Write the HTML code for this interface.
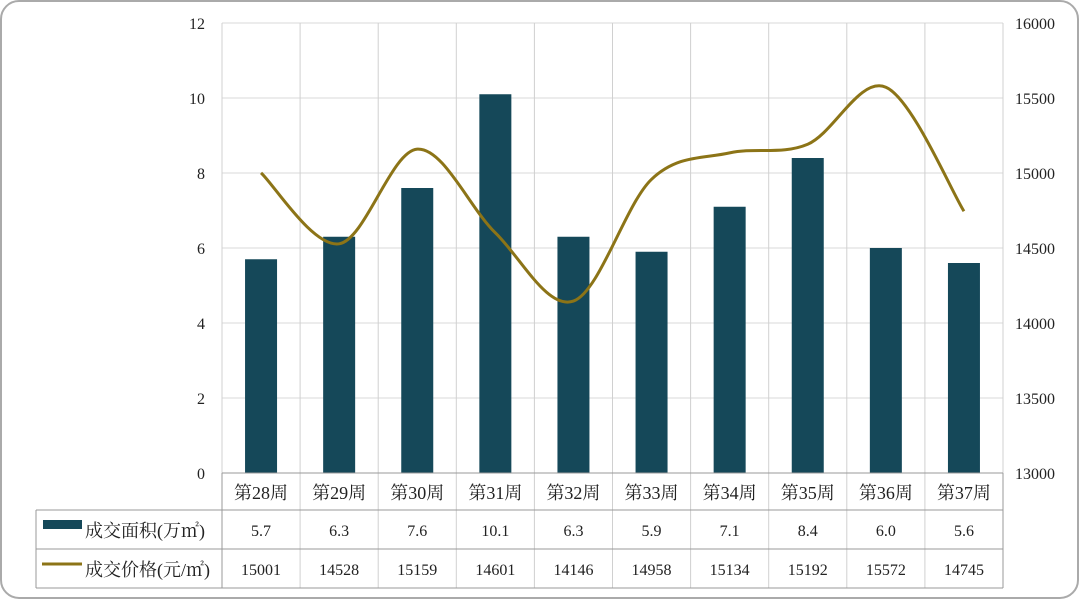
<!DOCTYPE html>
<html><head><meta charset="utf-8"><style>
body{margin:0;background:#fff;width:1080px;height:600px;overflow:hidden;}
svg text{font-family:"Liberation Serif","Noto Serif CJK SC","Noto Sans CJK SC",serif;fill:#222;}
</style></head><body>
<svg id="c" width="1080" height="600">
<rect x="1" y="1" width="1077" height="597" rx="18" fill="#fff" stroke="#aaa" stroke-width="2"/>
<g id="g"></g>
</svg>
<script>
const categories=["第28周","第29周","第30周","第31周","第32周","第33周","第34周","第35周","第36周","第37周"];
const areaValues=[5.7,6.3,7.6,10.1,6.3,5.9,7.1,8.4,6.0,5.6];
const areaLabels=["5.7","6.3","7.6","10.1","6.3","5.9","7.1","8.4","6.0","5.6"];
const priceValues=[15001,14528,15159,14601,14146,14958,15134,15192,15572,14745];
const leftTicks=[0,2,4,6,8,10,12];
const rightTicks=[13000,13500,14000,14500,15000,15500,16000];
const L=222,R=1003,T=23,B=473,n=categories.length,cw=(R-L)/n;
const yL=v=>B-(v-0)/(12-0)*(B-T);
const yR=v=>B-(v-13000)/(16000-13000)*(B-T);
const xC=i=>L+cw*(i+0.5);
const g=document.getElementById('g');const NS="http://www.w3.org/2000/svg";
function el(t,a,txt){const e=document.createElementNS(NS,t);for(const k in a)e.setAttribute(k,a[k]);if(txt!=null)e.textContent=txt;g.appendChild(e);return e;}
// gridlines
leftTicks.forEach(v=>{const e=el('line',{x1:L,x2:R,y1:yL(v),y2:yL(v),stroke:'#d9d9d9','stroke-width':1});


const t=el('text',{x:205,y:yL(v)+6,'text-anchor':'end','font-size':16},v);

});
rightTicks.forEach(v=>{const t=el('text',{x:1015,y:yR(v)+6,'font-size':16},v);

});
for(let i=0;i<=n;i++){const x=L+cw*i;const e=el('line',{x1:x,x2:x,y1:T,y2:588,stroke:'#d0d0d0','stroke-width':1});

}
// bars
areaValues.forEach((v,i)=>{const b=el('rect',{x:xC(i)-16,y:yL(v),width:32,height:B-yL(v),fill:'#154859'});

});
// line (catmull-rom)
const pts=priceValues.map((v,i)=>[xC(i),yR(v)]);
let d='M'+pts[0][0]+','+pts[0][1];
for(let i=0;i<pts.length-1;i++){const p0=pts[i-1]||pts[i],p1=pts[i],p2=pts[i+1],p3=pts[i+2]||p2;
d+=' C'+(p1[0]+(p2[0]-p0[0])/6)+','+(p1[1]+(p2[1]-p0[1])/6)+' '+(p2[0]-(p3[0]-p1[0])/6)+','+(p2[1]-(p3[1]-p1[1])/6)+' '+p2[0]+','+p2[1];}
const ln=el('path',{d:d,fill:'none',stroke:'#8c7417','stroke-width':3});


// table
[[L,R,B],[36,R,510],[36,R,549],[36,R,588]].forEach(r=>{const e=el('line',{x1:r[0],x2:r[1],y1:r[2],y2:r[2],stroke:'#999','stroke-width':1});

});
[36,L,R].forEach(x=>{const e=el('line',{x1:x,x2:x,y1:x==36?510:B,y2:588,stroke:'#999','stroke-width':1});

});
categories.forEach((c,i)=>{const t=el('text',{x:xC(i),y:499,'text-anchor':'middle','font-size':18},c);


const a=el('text',{x:xC(i),y:536,'text-anchor':'middle','font-size':16},areaLabels[i]);


const p=el('text',{x:xC(i),y:575,'text-anchor':'middle','font-size':16},priceValues[i]);

});
const k1=el('rect',{x:43,y:520,width:39,height:9,fill:'#154859'});


const l1=el('text',{x:85,y:537,'font-size':18},'成交面积(万㎡)');


const k2=el('line',{x1:42,x2:82,y1:564,y2:564,stroke:'#8c7417','stroke-width':3});


const l2=el('text',{x:85,y:576,'font-size':18},'成交价格(元/㎡)');


</script>
</body></html>
